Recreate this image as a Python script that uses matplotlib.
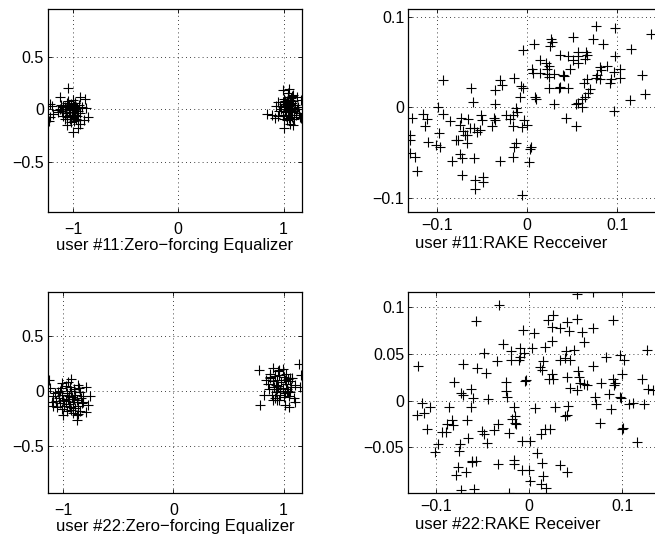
import numpy as np
import matplotlib
matplotlib.use("Agg")
import matplotlib.pyplot as plt

plt.rcParams['font.family'] = ['Liberation Sans', 'DejaVu Sans']

zf11 = [
    # cluster near -1
    (-1.044, 0.20), (-1.123, 0.115), (-0.934, 0.122), (-0.886, 0.096), (-1.22, 0.05),
    (-1.20, 0.03), (-1.22, -0.07), (-1.23, -0.11), (-1.19, -0.045), (-0.854, -0.07),
    (-0.90, -0.10), (-0.93, -0.14), (-0.95, -0.18), (-0.997, -0.22), (-1.06, -0.15),
    (-0.918, 0.02), (-0.877, 0.01), (-0.98, 0.058), (-1.09, 0.026), (-1.14, -0.006),
    (-1.08, 0.02), (-1.05, 0.04), (-1.02, 0.05), (-0.99, 0.03), (-0.96, 0.01),
    (-1.10, -0.02), (-1.07, -0.04), (-1.04, -0.01), (-1.01, -0.03), (-0.98, -0.05),
    (-0.95, -0.02), (-1.06, -0.07), (-1.03, -0.09), (-1.00, -0.07), (-0.97, -0.09),
    (-1.12, 0.00), (-1.09, -0.06), (-1.03, 0.01), (-0.99, -0.01), (-0.94, 0.04),
    (-1.05, 0.08), (-1.00, 0.09), (-0.96, -0.06), (-1.02, -0.12), (-0.99, -0.11),
    (-1.07, 0.00), (-1.04, 0.03), (-1.01, -0.05), (-0.97, 0.02), (-1.11, 0.04),
    (-1.14, -0.03), (-1.08, -0.09), (-0.93, -0.04), (-0.98, 0.06), (-1.03, -0.06),
    (-1.06, 0.06), (-0.95, -0.10), (-1.00, 0.00), (-1.04, -0.03), (-1.09, 0.03),
    # cluster near +1
    (0.997, 0.18), (1.054, 0.19), (1.09, 0.14), (1.123, 0.12), (1.165, 0.09),
    (0.84, -0.045), (0.886, -0.055), (0.92, -0.087), (1.0, -0.18), (1.09, -0.15),
    (1.06, -0.14), (1.155, -0.077), (1.165, -0.087), (0.93, 0.03), (0.95, 0.07),
    (1.14, 0.026),
    (1.00, 0.05), (1.03, 0.07), (1.06, 0.09), (1.08, 0.06), (1.02, 0.02),
    (1.05, 0.03), (1.08, 0.01), (1.11, 0.04), (0.98, 0.00), (1.01, -0.02),
    (1.04, -0.01), (1.07, -0.03), (1.10, -0.02), (0.99, -0.05), (1.02, -0.06),
    (1.05, -0.08), (1.08, -0.07), (1.12, -0.05), (0.96, -0.02), (1.00, 0.10),
    (1.04, 0.12), (1.07, 0.11), (1.03, 0.04), (1.06, -0.05), (1.09, 0.08),
    (1.01, 0.08), (0.97, 0.03), (1.05, 0.00), (1.13, 0.00), (1.10, -0.09),
    (1.03, -0.10), (0.95, -0.06), (1.06, 0.05), (1.02, -0.03), (1.15, -0.04),
    (1.00, -0.09), (1.08, 0.13), (1.04, 0.16), (0.99, 0.07), (1.07, -0.01),
]

rake11 = [
    (0.137, 0.0815), (0.076, 0.090), (0.098, 0.088), (0.051, 0.078), (0.027, 0.0756),
    (0.028, 0.072), (0.025, 0.068), (0.008, 0.070), (-0.004, 0.064), (0.073, 0.0756),
    (0.084, 0.070), (0.115, 0.065), (0.097, 0.057), (0.057, 0.061), (0.056, 0.057),
    (0.045, 0.057), (0.036, 0.058), (0.065, 0.061), (0.067, 0.058), (0.064, 0.054),
    (0.051, 0.053), (0.057, 0.049), (0.048, 0.043), (0.014, 0.052), (0.021, 0.049),
    (0.024, 0.046), (0.022, 0.043), (0.005, 0.043), (0.007, 0.038), (0.014, 0.038),
    (0.022, 0.037), (0.024, 0.034), (0.030, 0.037), (0.040, 0.036), (0.041, 0.035),
    (0.081, 0.045), (0.082, 0.041), (0.089, 0.046), (0.078, 0.036), (0.076, 0.033),
    (0.081, 0.031), (0.096, 0.039), (0.103, 0.043), (0.103, 0.032), (0.093, 0.031),
    (0.092, 0.027), (0.127, 0.036), (0.131, 0.015), (0.114, 0.008), (0.096, -0.004),
    (0.067, 0.031), (0.063, 0.027), (0.070, 0.020), (0.068, 0.016), (0.064, 0.012),
    (0.061, 0.009), (0.057, 0.0044), (0.054, 0.0037), (0.061, 0.0007), (0.024, 0.022),
    (0.035, 0.022), (0.037, 0.023), (0.045, 0.021), (0.009, 0.011), (0.010, 0.009),
    (0.030, 0.0037), (0.043, -0.012), (0.054, -0.021), (-0.004, 0.021), (-0.007, 0.024),
    (-0.014, 0.032), (-0.008, 0.012), (-0.012, -0.001), (-0.011, -0.005), (-0.016, -0.0085),
    (-0.023, -0.0085), (-0.030, 0.030), (-0.028, 0.025), (-0.035, 0.019), (-0.036, 0.0037),
    (-0.037, -0.012), (-0.036, -0.014), (-0.039, -0.021), (-0.019, -0.013), (-0.016, -0.021),
    (-0.006, -0.022), (-0.003, -0.014), (0.000, -0.020), (0.004, -0.044), (0.003, -0.046),
    (-0.012, -0.040), (-0.014, -0.044), (-0.016, -0.055), (0.002, -0.061), (-0.030, -0.059),
    (-0.006, -0.097), (-0.050, -0.014), (-0.051, -0.0085), (-0.060, 0.0063), (-0.062, 0.022),
    (-0.052, -0.025), (-0.059, -0.023), (-0.056, -0.027), (-0.063, -0.023), (-0.069, -0.031),
    (-0.071, -0.026), (-0.074, -0.020), (-0.065, -0.013), (-0.073, -0.012), (-0.066, -0.031),
    (-0.067, -0.039), (-0.076, -0.036), (-0.079, -0.036), (-0.074, -0.052), (-0.072, -0.056),
    (-0.083, -0.060), (-0.059, -0.056), (-0.072, -0.075), (-0.049, -0.077), (-0.049, -0.083),
    (-0.058, -0.081), (-0.058, -0.090), (-0.085, -0.015), (-0.093, -0.007), (-0.098, -0.028),
    (-0.096, -0.044), (-0.101, -0.042), (-0.099, 0.000), (-0.093, 0.030), (-0.110, -0.038),
    (-0.113, -0.021), (-0.111, -0.013), (-0.115, -0.007), (-0.127, -0.012), (-0.130, -0.031),
    (-0.130, -0.036), (-0.130, -0.051), (-0.124, -0.055), (-0.122, -0.071),
]

zf22 = [
    # cluster near -1
    (-1.13, 0.10), (-1.015, 0.079), (-0.933, 0.11), (-0.864, 0.058), (-0.79, 0.042),
    (-0.76, -0.042), (-0.78, -0.124), (-0.79, -0.185), (-0.88, -0.215), (-0.88, -0.26),
    (-1.0, -0.215), (-1.09, -0.133), (-1.106, -0.094), (-1.12, 0.027), (-1.076, -0.012),
    (-0.82, -0.094),
    (-1.02, 0.03), (-0.98, 0.05), (-0.94, 0.04), (-0.90, 0.02), (-1.05, -0.01),
    (-1.01, -0.03), (-0.97, -0.02), (-0.93, 0.00), (-0.89, -0.03), (-0.85, -0.01),
    (-1.04, -0.06), (-1.00, -0.08), (-0.96, -0.07), (-0.92, -0.05), (-0.88, -0.08),
    (-0.84, -0.06), (-1.03, -0.11), (-0.99, -0.13), (-0.95, -0.12), (-0.91, -0.10),
    (-0.87, -0.13), (-0.83, -0.11), (-1.01, -0.16), (-0.97, -0.18), (-0.93, -0.17),
    (-0.89, -0.15), (-0.85, -0.18), (-1.07, -0.09), (-1.09, -0.04), (-0.95, -0.04),
    (-0.91, -0.20), (-0.98, -0.09), (-0.94, -0.14), (-0.86, 0.03), (-1.06, -0.14),
    (-0.96, 0.08), (-0.90, -0.07), (-1.03, 0.00), (-0.82, -0.04), (-0.87, -0.21),
    # cluster near +1
    (1.136, 0.245), (1.16, 0.148), (1.15, 0.042), (1.106, -0.094), (1.045, -0.14),
    (1.015, -0.124), (0.788, -0.124), (0.773, 0.194), (0.818, -0.033), (0.88, 0.133),
    (0.90, 0.209), (0.955, 0.194), (0.94, -0.079), (1.06, 0.118), (1.03, -0.003),
    (0.88, 0.12), (0.92, 0.14), (0.96, 0.15), (1.00, 0.13), (1.04, 0.11),
    (0.86, 0.07), (0.90, 0.09), (0.94, 0.10), (0.98, 0.08), (1.02, 0.07),
    (1.06, 0.09), (0.87, 0.02), (0.91, 0.04), (0.95, 0.05), (0.99, 0.03),
    (1.03, 0.02), (1.07, 0.04), (0.89, -0.03), (0.93, -0.01), (0.97, 0.00),
    (1.01, -0.02), (1.05, -0.04), (0.92, -0.06), (0.96, -0.08), (1.00, -0.05),
    (1.04, 0.00), (0.95, 0.18), (0.99, 0.20), (1.08, 0.12), (0.84, 0.10),
    (0.93, 0.06), (1.02, 0.16), (0.97, -0.03), (1.10, 0.06), (0.90, -0.08),
    (1.06, -0.01), (0.88, 0.16), (1.01, 0.10), (0.94, 0.02), (1.09, -0.06),
]

rake22 = [
    (0.051, 0.114), (0.068, 0.116), (-0.032, 0.103), (-0.057, 0.085), (0.026, 0.092),
    (0.020, 0.086), (0.041, 0.084), (0.051, 0.088), (0.090, 0.086), (0.025, 0.079),
    (0.033, 0.078), (0.043, 0.075), (0.057, 0.074), (0.068, 0.078), (-0.007, 0.076),
    (0.005, 0.073), (0.024, 0.064), (0.059, 0.0625), (-0.028, 0.061), (0.003, 0.056),
    (-0.010, 0.056), (-0.019, 0.053), (-0.006, 0.051), (0.017, 0.057), (0.040, 0.053),
    (0.048, 0.054), (0.126, 0.054), (-0.048, 0.051), (-0.035, 0.043), (-0.019, 0.044),
    (-0.011, 0.044), (-0.010, 0.047), (0.015, 0.042), (0.012, 0.036), (0.014, 0.033),
    (0.033, 0.044), (0.038, 0.046), (0.044, 0.044), (0.083, 0.047), (0.097, 0.049),
    (0.102, 0.044), (0.069, 0.037), (-0.119, 0.0375), (-0.071, 0.039), (-0.056, 0.035),
    (-0.046, 0.030), (0.025, 0.029), (0.021, 0.023), (0.026, 0.023), (0.052, 0.032),
    (0.053, 0.025), (0.055, 0.019), (0.059, 0.0175), (0.062, 0.017), (0.051, 0.011),
    (0.041, 0.025), (0.044, 0.014), (0.077, 0.019), (0.090, 0.023), (0.092, 0.019),
    (0.091, 0.017), (0.086, 0.007), (0.100, 0.029), (0.121, 0.023), (0.128, 0.012),
    (0.133, 0.011), (-0.025, 0.020), (-0.005, 0.021), (-0.003, 0.022), (-0.081, 0.020),
    (-0.073, 0.008), (-0.071, 0.006), (-0.063, 0.012), (-0.060, 0.0025), (-0.044, 0.0014),
    (-0.025, 0.010), (-0.024, 0.0036), (0.071, 0.0036), (0.072, -0.0036), (0.097, 0.0036),
    (0.099, 0.0025), (0.107, -0.0036), (0.112, -0.002), (0.123, -0.0036), (-0.115, -0.003),
    (-0.107, -0.0064), (-0.120, -0.015), (-0.113, -0.013), (-0.086, -0.0064), (-0.063, -0.0064),
    (-0.016, -0.0064), (-0.015, -0.016), (-0.015, -0.024), (-0.014, -0.025), (-0.018, -0.020),
    (0.006, -0.008), (0.028, -0.0064), (0.042, -0.0057), (0.039, -0.016), (0.041, -0.015),
    (0.088, -0.0093), (0.076, -0.024), (0.101, -0.029), (0.100, -0.030), (0.116, -0.044),
    (-0.110, -0.030), (-0.094, -0.034), (-0.089, -0.034), (-0.083, -0.021), (-0.088, -0.025),
    (-0.082, -0.026), (-0.067, -0.021), (-0.066, -0.040), (-0.051, -0.033), (-0.049, -0.036),
    (-0.045, -0.045), (-0.038, -0.031), (-0.033, -0.025), (-0.022, -0.035), (-0.008, -0.043),
    (0.001, -0.043), (0.013, -0.036), (0.017, -0.030), (0.022, -0.030), (-0.098, -0.046),
    (-0.101, -0.055), (-0.074, -0.046), (-0.075, -0.054), (0.008, -0.056), (-0.016, -0.064),
    (-0.016, -0.068), (-0.033, -0.068), (-0.061, -0.065), (-0.057, -0.065), (-0.061, -0.066),
    (-0.076, -0.071), (-0.079, -0.080), (-0.068, -0.076), (-0.008, -0.074), (0.000, -0.074),
    (0.001, -0.086), (0.014, -0.067), (0.015, -0.081), (0.013, -0.089), (0.018, -0.094),
    (0.033, -0.069), (0.041, -0.077), (-0.073, -0.096), (-0.059, -0.095), (-0.022, -0.099),
]

labels = ["user #11:Zero\u2212forcing Equalizer", "user #11:RAKE Recceiver",
          "user #22:Zero\u2212forcing Equalizer", "user #22:RAKE Receiver"]

xticks = [[-1, 0, 1], [-0.1, 0, 0.1], [-1, 0, 1], [-0.1, 0, 0.1]]
xticklabels = [["\u22121", "0", "1"], ["\u22120.1", "0", "0.1"],
               ["\u22121", "0", "1"], ["\u22120.1", "0", "0.1"]]
yticks = [[-0.5, 0, 0.5], [-0.1, 0, 0.1], [-0.5, 0, 0.5], [-0.05, 0, 0.05, 0.1]]
yticklabels = [["\u22120.5", "0", "0.5"], ["\u22120.1", "0", "0.1"],
               ["\u22120.5", "0", "0.5"], ["\u22120.05", "0", "0.05", "0.1"]]

xlims = [(-1.237, 1.175), (-0.1316, 0.150), (-1.139, 1.167), (-0.1298, 0.143)]
ylims = [(-0.981, 0.958), (-0.116, 0.109), (-0.927, 0.905), (-0.0993, 0.1168)]

# axes boxes in figure fraction (right column runs past the figure edge)
boxes = [[0.0733, 0.6052, 0.3878, 0.378], [0.6234, 0.6052, 0.3878, 0.378],
         [0.0733, 0.0814, 0.3878, 0.3754], [0.6234, 0.0814, 0.3878, 0.3754]]

fig = plt.figure(figsize=(6.55, 5.37), dpi=100)

for i, data in enumerate([zf11, rake11, zf22, rake22]):
    pts = np.array(data)
    ax = fig.add_axes(boxes[i])
    ax.plot(pts[:, 0], pts[:, 1], '+', color='k', ms=6.5, mew=0.8)
    ax.set_xlim(xlims[i])
    ax.set_ylim(ylims[i])
    ax.set_xticks(xticks[i])
    ax.set_xticklabels(xticklabels[i])
    ax.set_yticks(yticks[i])
    ax.set_yticklabels(yticklabels[i])
    ax.grid(True, color='k', linestyle=(0, (1, 4)), linewidth=0.6)
    ax.tick_params(direction='in', top=True, right=True, length=3, width=0.6,
                   labelsize=11.5, pad=3)
    ax.tick_params(axis='x', pad=7 if i % 2 == 0 else 4)
    for s in ax.spines.values():
        s.set_linewidth(0.9)
    ax.set_xlabel(labels[i], fontsize=12)
    h = boxes[i][3] * 537
    if i % 2 == 0:
        ax.xaxis.set_label_coords(0.5, -33 / h)
        ax.xaxis.label.set_horizontalalignment('center')
    else:
        ax.xaxis.set_label_coords(0.026, -31 / h)
        ax.xaxis.label.set_horizontalalignment('left')
    ax.xaxis.label.set_verticalalignment('center')

fig.savefig("out.png", dpi=100)
